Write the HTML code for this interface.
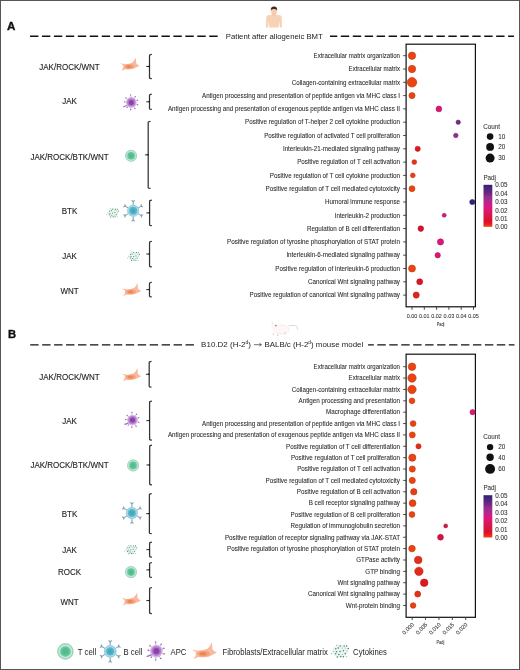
<!DOCTYPE html><html><head><meta charset="utf-8"><style>html,body{margin:0;padding:0;background:#fff}svg{display:block;will-change:transform}text{font-family:"Liberation Sans", sans-serif}</style></head><body>
<svg width="520" height="670" viewBox="0 0 520 670">

<defs>
 <filter id="soft" x="-30%" y="-30%" width="160%" height="160%"><feGaussianBlur stdDeviation="0.35"/></filter>
 <filter id="soft2" x="-30%" y="-30%" width="160%" height="160%"><feGaussianBlur stdDeviation="0.6"/></filter>
 <linearGradient id="cbar" x1="0" y1="1" x2="0" y2="0">
  <stop offset="0.000" stop-color="#ec4410"/>
  <stop offset="0.020" stop-color="#e93a14"/>
  <stop offset="0.040" stop-color="#e63018"/>
  <stop offset="0.060" stop-color="#e4261a"/>
  <stop offset="0.080" stop-color="#e31c1d"/>
  <stop offset="0.100" stop-color="#e11520"/>
  <stop offset="0.120" stop-color="#dd1327"/>
  <stop offset="0.140" stop-color="#da112d"/>
  <stop offset="0.160" stop-color="#d81132"/>
  <stop offset="0.180" stop-color="#d81237"/>
  <stop offset="0.200" stop-color="#d8133b"/>
  <stop offset="0.220" stop-color="#d81440"/>
  <stop offset="0.240" stop-color="#d71645"/>
  <stop offset="0.260" stop-color="#d6174a"/>
  <stop offset="0.280" stop-color="#d6184e"/>
  <stop offset="0.300" stop-color="#d71853"/>
  <stop offset="0.320" stop-color="#d81858"/>
  <stop offset="0.340" stop-color="#d9185d"/>
  <stop offset="0.360" stop-color="#da1862"/>
  <stop offset="0.380" stop-color="#da1866"/>
  <stop offset="0.400" stop-color="#db186b"/>
  <stop offset="0.420" stop-color="#dc1870"/>
  <stop offset="0.440" stop-color="#de1776"/>
  <stop offset="0.460" stop-color="#df167b"/>
  <stop offset="0.480" stop-color="#dc1780"/>
  <stop offset="0.500" stop-color="#d51a83"/>
  <stop offset="0.520" stop-color="#ce1d86"/>
  <stop offset="0.540" stop-color="#c71f89"/>
  <stop offset="0.560" stop-color="#c0228c"/>
  <stop offset="0.580" stop-color="#ba248c"/>
  <stop offset="0.600" stop-color="#b4268d"/>
  <stop offset="0.620" stop-color="#ae288d"/>
  <stop offset="0.640" stop-color="#a8298e"/>
  <stop offset="0.660" stop-color="#a22b8e"/>
  <stop offset="0.680" stop-color="#9c2d8e"/>
  <stop offset="0.700" stop-color="#972f8f"/>
  <stop offset="0.720" stop-color="#8f2f8d"/>
  <stop offset="0.740" stop-color="#842c87"/>
  <stop offset="0.760" stop-color="#7a2a84"/>
  <stop offset="0.780" stop-color="#742983"/>
  <stop offset="0.800" stop-color="#6e2882"/>
  <stop offset="0.820" stop-color="#672881"/>
  <stop offset="0.840" stop-color="#612780"/>
  <stop offset="0.860" stop-color="#5a277f"/>
  <stop offset="0.880" stop-color="#54267e"/>
  <stop offset="0.900" stop-color="#4d257d"/>
  <stop offset="0.920" stop-color="#47257c"/>
  <stop offset="0.940" stop-color="#40247b"/>
  <stop offset="0.960" stop-color="#3a237a"/>
  <stop offset="0.980" stop-color="#332379"/>
  <stop offset="1.000" stop-color="#2d2278"/>
 </linearGradient>
 <g id="fib">
  <path d="M-9.4,-2.7 Q-6.5,-2 -4.5,-1.8 Q0,-2 3,-3.5 Q5,-5.5 6.2,-8.4 Q6.6,-5 6.5,-3 Q8,-1 10,-0.3 Q8,0.8 6.5,1.5 Q4,3.2 0,3.4 Q-3.5,3.4 -5,3.2 Q-6.5,4.2 -8.1,4.8 Q-7,3 -6.3,1.6 Q-6.5,0 -6.3,-0.8 Q-8,-1.6 -9.4,-2.7 Z" fill="#f8b99e"/>
  <ellipse cx="-0.3" cy="0.5" rx="4.8" ry="2.3" fill="#f4a27c"/>
  <ellipse cx="-0.8" cy="0.6" rx="2.6" ry="1.3" fill="#ef8456"/>
 </g>
 <g id="apc">
  <g stroke="#b58ac8" stroke-width="0.6" stroke-linecap="round">
   <line x1="-0.37" y1="-4.18" x2="-0.66" y2="-7.57"/>
   <circle cx="-0.66" cy="-7.57" r="0.65" fill="#9870a8" stroke="none"/>
   <line x1="2.41" y1="-3.44" x2="4.02" y2="-5.73"/>
   <circle cx="4.02" cy="-5.73" r="0.65" fill="#9870a8" stroke="none"/>
   <line x1="3.95" y1="-1.44" x2="6.20" y2="-2.26"/>
   <circle cx="6.20" cy="-2.26" r="0.65" fill="#9870a8" stroke="none"/>
   <line x1="3.95" y1="1.44" x2="6.39" y2="2.33"/>
   <circle cx="6.39" cy="2.33" r="0.65" fill="#9870a8" stroke="none"/>
   <line x1="2.10" y1="3.64" x2="3.60" y2="6.24"/>
   <circle cx="3.60" cy="6.24" r="0.65" fill="#9870a8" stroke="none"/>
   <line x1="-0.37" y1="4.18" x2="-0.64" y2="7.37"/>
   <circle cx="-0.64" cy="7.37" r="0.65" fill="#9870a8" stroke="none"/>
   <line x1="-2.70" y1="3.22" x2="-4.24" y2="5.06"/>
   <circle cx="-4.24" cy="5.06" r="0.65" fill="#9870a8" stroke="none"/>
   <line x1="-4.18" y1="-0.37" x2="-6.77" y2="-0.59"/>
   <circle cx="-6.77" cy="-0.59" r="0.65" fill="#9870a8" stroke="none"/>
   <line x1="-3.22" y1="-2.70" x2="-5.36" y2="-4.50"/>
   <circle cx="-5.36" cy="-4.50" r="0.65" fill="#9870a8" stroke="none"/>
  </g>
  <path d="M-3,2.6 L-7.6,4.4" stroke="#a070b8" stroke-width="1.2" stroke-linecap="round"/>
  <circle r="5.3" fill="#d6b6e4"/>
  <circle r="4.1" fill="#b27ccc"/>
  <circle r="2.5" fill="#8c3fa8"/>
 </g>
 <g id="tcell">
  <circle r="6" fill="#bfe7d5"/>
  <circle r="5.5" fill="none" stroke="#96cbb2" stroke-width="0.7"/>
  <circle r="3.8" fill="#62c79c"/>
  <circle r="2.2" fill="#52bb8e"/>
 </g>
 <g id="bcell">
  <g stroke="#6c8a9e" stroke-width="0.85" fill="#6c8a9e" stroke-linejoin="round">
   <line x1="0.00" y1="-5.50" x2="0.00" y2="-8.30"/>
   <path d="M0.00,-8.30 L1.55,-10.50 L0.00,-9.70 L-1.55,-10.50 Z" stroke-width="0.45" fill-opacity="0.85"/>
   <line x1="4.76" y1="-2.75" x2="7.19" y2="-4.15"/>
   <path d="M7.19,-4.15 L9.87,-3.91 L8.40,-4.85 L8.32,-6.59 Z" stroke-width="0.45" fill-opacity="0.85"/>
   <line x1="4.76" y1="2.75" x2="7.19" y2="4.15"/>
   <path d="M7.19,4.15 L8.32,6.59 L8.40,4.85 L9.87,3.91 Z" stroke-width="0.45" fill-opacity="0.85"/>
   <line x1="0.00" y1="5.50" x2="0.00" y2="8.30"/>
   <path d="M0.00,8.30 L-1.55,10.50 L0.00,9.70 L1.55,10.50 Z" stroke-width="0.45" fill-opacity="0.85"/>
   <line x1="-4.76" y1="2.75" x2="-7.19" y2="4.15"/>
   <path d="M-7.19,4.15 L-9.87,3.91 L-8.40,4.85 L-8.32,6.59 Z" stroke-width="0.45" fill-opacity="0.85"/>
   <line x1="-4.76" y1="-2.75" x2="-7.19" y2="-4.15"/>
   <path d="M-7.19,-4.15 L-8.32,-6.59 L-8.40,-4.85 L-9.87,-3.91 Z" stroke-width="0.45" fill-opacity="0.85"/>
  </g>
  <circle r="6" fill="#abdcea"/>
  <circle r="5.5" fill="none" stroke="#86c3d4" stroke-width="0.6"/>
  <circle r="4.0" fill="#5ab7cc"/>
  <circle r="2.4" fill="#4aa8c0"/>
 </g>
 <g id="cyto">
  <ellipse rx="5.6" ry="4.8" fill="#eaf7f0"/>
  <circle cx="-2.57" cy="-4.30" r="0.50" fill="#9cc6b6"/>
  <circle cx="-0.08" cy="-3.76" r="0.55" fill="#4f7f6f"/>
  <circle cx="2.77" cy="-3.76" r="0.55" fill="#4f7f6f"/>
  <circle cx="4.57" cy="-3.71" r="0.55" fill="#4f7f6f"/>
  <circle cx="-3.23" cy="-1.82" r="0.55" fill="#4f7f6f"/>
  <circle cx="-1.40" cy="-2.28" r="0.55" fill="#4f7f6f"/>
  <circle cx="1.44" cy="-2.23" r="0.50" fill="#9cc6b6"/>
  <circle cx="3.56" cy="-2.22" r="0.50" fill="#9cc6b6"/>
  <circle cx="5.70" cy="-1.90" r="0.55" fill="#4f7f6f"/>
  <circle cx="-4.88" cy="0.25" r="0.50" fill="#9cc6b6"/>
  <circle cx="-2.72" cy="0.34" r="0.55" fill="#4f7f6f"/>
  <circle cx="-0.19" cy="0.19" r="0.55" fill="#4f7f6f"/>
  <circle cx="2.24" cy="-0.30" r="0.55" fill="#4f7f6f"/>
  <circle cx="4.87" cy="-0.18" r="0.50" fill="#9cc6b6"/>
  <circle cx="-6.25" cy="1.76" r="0.50" fill="#9cc6b6"/>
  <circle cx="-3.35" cy="1.82" r="0.55" fill="#4f7f6f"/>
  <circle cx="-1.01" cy="2.31" r="0.55" fill="#4f7f6f"/>
  <circle cx="1.56" cy="2.27" r="0.50" fill="#9cc6b6"/>
  <circle cx="3.54" cy="1.72" r="0.55" fill="#4f7f6f"/>
  <circle cx="-2.12" cy="4.08" r="0.55" fill="#4f7f6f"/>
  <circle cx="0.33" cy="3.79" r="0.55" fill="#4f7f6f"/>
  <circle cx="2.22" cy="3.96" r="0.55" fill="#4f7f6f"/>
  <circle cx="4.54" cy="3.91" r="0.50" fill="#9cc6b6"/>
 </g>
</defs>

<rect x="0" y="0" width="520" height="670" fill="#fff"/>
<rect x="0.5" y="0.5" width="519" height="669" fill="none" stroke="#555" stroke-width="1"/>
<text x="7.10" y="30.10" font-size="11.60" text-anchor="start" font-weight="bold" fill="#111" stroke="#111" stroke-width="0.35">A</text>
<line x1="30.00" y1="36.20" x2="219.00" y2="36.20" stroke="#111" stroke-width="1.35" stroke-dasharray="8.40 3.55" stroke-dashoffset="0.00"/>
<text x="225.80" y="38.60" font-size="7.72" text-anchor="start" font-weight="normal" fill="#222" >Patient after allogeneic BMT</text>
<line x1="330.00" y1="36.20" x2="514.00" y2="36.20" stroke="#111" stroke-width="1.35" stroke-dasharray="8.40 3.55" stroke-dashoffset="1.15"/>
<g filter="url(#soft)">
 <path d="M266.3,17 Q266.6,15.2 269.5,15 L272.2,14.6 L275.8,14.6 L278.5,15 Q281.4,15.2 281.7,17 L282,27.6 L279.8,27.6 L279.3,21 L278.6,27.6 L269.4,27.6 L268.7,21 L268.2,27.6 L266,27.6 Z" fill="#f8d2b4"/>
 <ellipse cx="274" cy="11" rx="3.0" ry="4.1" fill="#f6cdb0"/>
 <rect x="272.6" y="13.5" width="2.8" height="2.2" fill="#f3c6a6"/>
 <path d="M270.8,10.6 Q270.5,6.5 274,6.4 Q277.5,6.5 277.2,10.6 Q276.6,8.9 274,9.1 Q271.4,8.9 270.8,10.6 Z" fill="#3f2a22"/>
</g>
<rect x="406.1" y="44.20" width="69.3" height="262.60" fill="none" stroke="#111" stroke-width="1.2"/>
<text x="400.00" y="57.95" font-size="6.30" text-anchor="end" font-weight="normal" fill="#2a2a2a" stroke="#333" stroke-width="0.07" textLength="86.40" lengthAdjust="spacingAndGlyphs">Extracellular matrix organization</text>
<line x1="403.2" y1="55.70" x2="406.1" y2="55.70" stroke="#333" stroke-width="0.9"/>
<text x="400.00" y="71.25" font-size="6.30" text-anchor="end" font-weight="normal" fill="#2a2a2a" stroke="#333" stroke-width="0.07" textLength="51.40" lengthAdjust="spacingAndGlyphs">Extracellular matrix</text>
<line x1="403.2" y1="69.00" x2="406.1" y2="69.00" stroke="#333" stroke-width="0.9"/>
<text x="400.00" y="84.55" font-size="6.30" text-anchor="end" font-weight="normal" fill="#2a2a2a" stroke="#333" stroke-width="0.07" textLength="108.20" lengthAdjust="spacingAndGlyphs">Collagen-containing extracellular matrix</text>
<line x1="403.2" y1="82.30" x2="406.1" y2="82.30" stroke="#333" stroke-width="0.9"/>
<text x="400.00" y="97.85" font-size="6.30" text-anchor="end" font-weight="normal" fill="#2a2a2a" stroke="#333" stroke-width="0.07" textLength="198.03" lengthAdjust="spacingAndGlyphs">Antigen processing and presentation of peptide antigen via MHC class I</text>
<line x1="403.2" y1="95.60" x2="406.1" y2="95.60" stroke="#333" stroke-width="0.9"/>
<text x="400.00" y="111.15" font-size="6.30" text-anchor="end" font-weight="normal" fill="#2a2a2a" stroke="#333" stroke-width="0.07" textLength="232.09" lengthAdjust="spacingAndGlyphs">Antigen processing and presentation of exogenous peptide antigen via MHC class II</text>
<line x1="403.2" y1="108.90" x2="406.1" y2="108.90" stroke="#333" stroke-width="0.9"/>
<text x="400.00" y="124.45" font-size="6.30" text-anchor="end" font-weight="normal" fill="#2a2a2a" stroke="#333" stroke-width="0.07" textLength="154.94" lengthAdjust="spacingAndGlyphs">Positive regulation of T-helper 2 cell cytokine production</text>
<line x1="403.2" y1="122.20" x2="406.1" y2="122.20" stroke="#333" stroke-width="0.9"/>
<text x="400.00" y="137.75" font-size="6.30" text-anchor="end" font-weight="normal" fill="#2a2a2a" stroke="#333" stroke-width="0.07" textLength="135.83" lengthAdjust="spacingAndGlyphs">Positive regulation of activated T cell proliferation</text>
<line x1="403.2" y1="135.50" x2="406.1" y2="135.50" stroke="#333" stroke-width="0.9"/>
<text x="400.00" y="151.05" font-size="6.30" text-anchor="end" font-weight="normal" fill="#2a2a2a" stroke="#333" stroke-width="0.07" textLength="117.08" lengthAdjust="spacingAndGlyphs">Interleukin-21-mediated signaling pathway</text>
<line x1="403.2" y1="148.80" x2="406.1" y2="148.80" stroke="#333" stroke-width="0.9"/>
<text x="400.00" y="164.35" font-size="6.30" text-anchor="end" font-weight="normal" fill="#2a2a2a" stroke="#333" stroke-width="0.07" textLength="102.83" lengthAdjust="spacingAndGlyphs">Positive regulation of T cell activation</text>
<line x1="403.2" y1="162.10" x2="406.1" y2="162.10" stroke="#333" stroke-width="0.9"/>
<text x="400.00" y="177.65" font-size="6.30" text-anchor="end" font-weight="normal" fill="#2a2a2a" stroke="#333" stroke-width="0.07" textLength="130.28" lengthAdjust="spacingAndGlyphs">Positive regulation of T cell cytokine production</text>
<line x1="403.2" y1="175.40" x2="406.1" y2="175.40" stroke="#333" stroke-width="0.9"/>
<text x="400.00" y="190.95" font-size="6.30" text-anchor="end" font-weight="normal" fill="#2a2a2a" stroke="#333" stroke-width="0.07" textLength="134.44" lengthAdjust="spacingAndGlyphs">Positive regulation of T cell mediated cytotoxicity</text>
<line x1="403.2" y1="188.70" x2="406.1" y2="188.70" stroke="#333" stroke-width="0.9"/>
<text x="400.00" y="204.25" font-size="6.30" text-anchor="end" font-weight="normal" fill="#2a2a2a" stroke="#333" stroke-width="0.07" textLength="75.03" lengthAdjust="spacingAndGlyphs">Humoral immune response</text>
<line x1="403.2" y1="202.00" x2="406.1" y2="202.00" stroke="#333" stroke-width="0.9"/>
<text x="400.00" y="217.55" font-size="6.30" text-anchor="end" font-weight="normal" fill="#2a2a2a" stroke="#333" stroke-width="0.07" textLength="65.32" lengthAdjust="spacingAndGlyphs">Interleukin-2 production</text>
<line x1="403.2" y1="215.30" x2="406.1" y2="215.30" stroke="#333" stroke-width="0.9"/>
<text x="400.00" y="230.85" font-size="6.30" text-anchor="end" font-weight="normal" fill="#2a2a2a" stroke="#333" stroke-width="0.07" textLength="93.11" lengthAdjust="spacingAndGlyphs">Regulation of B cell differentiation</text>
<line x1="403.2" y1="228.60" x2="406.1" y2="228.60" stroke="#333" stroke-width="0.9"/>
<text x="400.00" y="244.15" font-size="6.30" text-anchor="end" font-weight="normal" fill="#2a2a2a" stroke="#333" stroke-width="0.07" textLength="173.01" lengthAdjust="spacingAndGlyphs">Positive regulation of tyrosine phosphorylation of STAT protein</text>
<line x1="403.2" y1="241.90" x2="406.1" y2="241.90" stroke="#333" stroke-width="0.9"/>
<text x="400.00" y="257.45" font-size="6.30" text-anchor="end" font-weight="normal" fill="#2a2a2a" stroke="#333" stroke-width="0.07" textLength="113.61" lengthAdjust="spacingAndGlyphs">Interleukin-6-mediated signaling pathway</text>
<line x1="403.2" y1="255.20" x2="406.1" y2="255.20" stroke="#333" stroke-width="0.9"/>
<text x="400.00" y="270.75" font-size="6.30" text-anchor="end" font-weight="normal" fill="#2a2a2a" stroke="#333" stroke-width="0.07" textLength="124.73" lengthAdjust="spacingAndGlyphs">Positive regulation of interleukin-6 production</text>
<line x1="403.2" y1="268.50" x2="406.1" y2="268.50" stroke="#333" stroke-width="0.9"/>
<text x="400.00" y="284.05" font-size="6.30" text-anchor="end" font-weight="normal" fill="#2a2a2a" stroke="#333" stroke-width="0.07" textLength="92.07" lengthAdjust="spacingAndGlyphs">Canonical Wnt signaling pathway</text>
<line x1="403.2" y1="281.80" x2="406.1" y2="281.80" stroke="#333" stroke-width="0.9"/>
<text x="400.00" y="297.35" font-size="6.30" text-anchor="end" font-weight="normal" fill="#2a2a2a" stroke="#333" stroke-width="0.07" textLength="150.43" lengthAdjust="spacingAndGlyphs">Positive regulation of canonical Wnt signaling pathway</text>
<line x1="403.2" y1="295.10" x2="406.1" y2="295.10" stroke="#333" stroke-width="0.9"/>
<circle cx="412.00" cy="55.70" r="3.70" fill="#ec4410" stroke="#b8350c" stroke-width="0.55"/>
<circle cx="412.00" cy="69.00" r="3.70" fill="#ec4410" stroke="#b8350c" stroke-width="0.55"/>
<circle cx="412.00" cy="82.30" r="4.80" fill="#ec4410" stroke="#b8350c" stroke-width="0.55"/>
<circle cx="412.00" cy="95.60" r="3.10" fill="#ec4410" stroke="#b8350c" stroke-width="0.55"/>
<circle cx="438.90" cy="108.90" r="2.90" fill="#dd1775" stroke="#ac115b" stroke-width="0.55"/>
<circle cx="458.20" cy="122.20" r="2.20" fill="#7d2a84" stroke="#612066" stroke-width="0.55"/>
<circle cx="455.80" cy="135.50" r="2.30" fill="#93308f" stroke="#72256f" stroke-width="0.55"/>
<circle cx="417.70" cy="148.80" r="2.60" fill="#e2161e" stroke="#b01117" stroke-width="0.55"/>
<circle cx="414.30" cy="162.10" r="2.40" fill="#e63117" stroke="#b32611" stroke-width="0.55"/>
<circle cx="412.80" cy="175.40" r="2.40" fill="#ea3d13" stroke="#b62f0e" stroke-width="0.55"/>
<circle cx="412.00" cy="188.70" r="3.00" fill="#ec4410" stroke="#b8350c" stroke-width="0.55"/>
<circle cx="472.30" cy="202.00" r="2.60" fill="#332379" stroke="#271b5e" stroke-width="0.55"/>
<circle cx="444.20" cy="215.30" r="2.00" fill="#cd1d86" stroke="#9f1668" stroke-width="0.55"/>
<circle cx="420.80" cy="228.60" r="2.80" fill="#d9112e" stroke="#a90d23" stroke-width="0.55"/>
<circle cx="440.50" cy="241.90" r="3.10" fill="#df167c" stroke="#ad1160" stroke-width="0.55"/>
<circle cx="437.70" cy="255.20" r="2.70" fill="#dc186f" stroke="#ab1256" stroke-width="0.55"/>
<circle cx="412.00" cy="268.50" r="3.50" fill="#ec4410" stroke="#b8350c" stroke-width="0.55"/>
<circle cx="419.70" cy="281.80" r="3.00" fill="#dc1328" stroke="#ab0e1f" stroke-width="0.55"/>
<circle cx="416.20" cy="295.10" r="3.10" fill="#e4221b" stroke="#b11a15" stroke-width="0.55"/>
<line x1="412.00" y1="306.8" x2="412.00" y2="309.8" stroke="#333" stroke-width="0.9"/>
<text x="412.00" y="317.60" font-size="5.80" text-anchor="middle" font-weight="normal" fill="#333" stroke="#333" stroke-width="0.07" textLength="10.60" lengthAdjust="spacingAndGlyphs">0.00</text>
<line x1="424.30" y1="306.8" x2="424.30" y2="309.8" stroke="#333" stroke-width="0.9"/>
<text x="424.30" y="317.60" font-size="5.80" text-anchor="middle" font-weight="normal" fill="#333" stroke="#333" stroke-width="0.07" textLength="10.60" lengthAdjust="spacingAndGlyphs">0.01</text>
<line x1="436.60" y1="306.8" x2="436.60" y2="309.8" stroke="#333" stroke-width="0.9"/>
<text x="436.60" y="317.60" font-size="5.80" text-anchor="middle" font-weight="normal" fill="#333" stroke="#333" stroke-width="0.07" textLength="10.60" lengthAdjust="spacingAndGlyphs">0.02</text>
<line x1="448.90" y1="306.8" x2="448.90" y2="309.8" stroke="#333" stroke-width="0.9"/>
<text x="448.90" y="317.60" font-size="5.80" text-anchor="middle" font-weight="normal" fill="#333" stroke="#333" stroke-width="0.07" textLength="10.60" lengthAdjust="spacingAndGlyphs">0.03</text>
<line x1="461.20" y1="306.8" x2="461.20" y2="309.8" stroke="#333" stroke-width="0.9"/>
<text x="461.20" y="317.60" font-size="5.80" text-anchor="middle" font-weight="normal" fill="#333" stroke="#333" stroke-width="0.07" textLength="10.60" lengthAdjust="spacingAndGlyphs">0.04</text>
<line x1="473.50" y1="306.8" x2="473.50" y2="309.8" stroke="#333" stroke-width="0.9"/>
<text x="473.50" y="317.60" font-size="5.80" text-anchor="middle" font-weight="normal" fill="#333" stroke="#333" stroke-width="0.07" textLength="10.60" lengthAdjust="spacingAndGlyphs">0.05</text>
<text x="440.60" y="325.60" font-size="5.60" text-anchor="middle" font-weight="normal" fill="#333" stroke="#333" stroke-width="0.07" textLength="7.80" lengthAdjust="spacingAndGlyphs">Padj</text>
<text x="483.20" y="128.70" font-size="6.30" text-anchor="start" font-weight="normal" fill="#333" stroke="#333" stroke-width="0.07">Count</text>
<circle cx="490.1" cy="136.60" r="3.30" fill="#111"/>
<text x="498.30" y="138.90" font-size="6.30" text-anchor="start" font-weight="normal" fill="#333" stroke="#333" stroke-width="0.07">10</text>
<circle cx="490.1" cy="146.90" r="3.90" fill="#111"/>
<text x="498.30" y="149.20" font-size="6.30" text-anchor="start" font-weight="normal" fill="#333" stroke="#333" stroke-width="0.07">20</text>
<circle cx="490.1" cy="158.10" r="4.50" fill="#111"/>
<text x="498.30" y="160.40" font-size="6.30" text-anchor="start" font-weight="normal" fill="#333" stroke="#333" stroke-width="0.07">30</text>
<text x="483.40" y="180.10" font-size="6.30" text-anchor="start" font-weight="normal" fill="#333" stroke="#333" stroke-width="0.07">Padj</text>
<rect x="483.5" y="184.80" width="8.8" height="42.00" fill="url(#cbar)"/>
<text x="495.20" y="187.40" font-size="6.30" text-anchor="start" font-weight="normal" fill="#333" stroke="#333" stroke-width="0.07">0.05</text>
<text x="495.20" y="195.80" font-size="6.30" text-anchor="start" font-weight="normal" fill="#333" stroke="#333" stroke-width="0.07">0.04</text>
<text x="495.20" y="204.20" font-size="6.30" text-anchor="start" font-weight="normal" fill="#333" stroke="#333" stroke-width="0.07">0.03</text>
<text x="495.20" y="212.60" font-size="6.30" text-anchor="start" font-weight="normal" fill="#333" stroke="#333" stroke-width="0.07">0.02</text>
<text x="495.20" y="221.00" font-size="6.30" text-anchor="start" font-weight="normal" fill="#333" stroke="#333" stroke-width="0.07">0.01</text>
<text x="495.20" y="229.40" font-size="6.30" text-anchor="start" font-weight="normal" fill="#333" stroke="#333" stroke-width="0.07">0.00</text>
<text x="69.50" y="70.40" font-size="8.60" text-anchor="middle" font-weight="normal" fill="#1e1e1e" stroke="#1e1e1e" stroke-width="0.12" textLength="60.45" lengthAdjust="spacingAndGlyphs">JAK/ROCK/WNT</text>
<use href="#fib" transform="translate(129.60 66.00) scale(1.000)" filter="url(#soft)"/>
<path d="M151.80,54.40 Q149.50,54.40 149.50,55.40 V78.00 Q149.50,78.60 151.80,78.60" fill="none" stroke="#333" stroke-width="1.25"/>
<path d="M149.80,65.60 L148.00,66.05 L149.80,67.40 Z" fill="#1a1a1a"/>
<line x1="149.50" y1="66.50" x2="146.30" y2="66.50" stroke="#1a1a1a" stroke-width="0.95"/>
<text x="69.50" y="103.80" font-size="8.60" text-anchor="middle" font-weight="normal" fill="#1e1e1e" stroke="#1e1e1e" stroke-width="0.12" textLength="14.67" lengthAdjust="spacingAndGlyphs">JAK</text>
<use href="#apc" transform="translate(131.30 102.40) scale(1.000)" filter="url(#soft)"/>
<path d="M151.80,94.20 Q149.50,94.20 149.50,95.20 V108.80 Q149.50,109.40 151.80,109.40" fill="none" stroke="#333" stroke-width="1.25"/>
<path d="M149.80,100.90 L148.00,101.35 L149.80,102.70 Z" fill="#1a1a1a"/>
<line x1="149.50" y1="101.80" x2="146.30" y2="101.80" stroke="#1a1a1a" stroke-width="0.95"/>
<text x="69.50" y="159.80" font-size="8.60" text-anchor="middle" font-weight="normal" fill="#1e1e1e" stroke="#1e1e1e" stroke-width="0.12" textLength="78.23" lengthAdjust="spacingAndGlyphs">JAK/ROCK/BTK/WNT</text>
<use href="#tcell" transform="translate(131.10 155.80) scale(1.000)" filter="url(#soft)"/>
<path d="M150.50,121.30 Q148.20,121.30 148.20,122.30 V187.80 Q148.20,188.40 150.50,188.40" fill="none" stroke="#333" stroke-width="1.25"/>
<path d="M148.50,153.95 L146.70,154.40 L148.50,155.75 Z" fill="#1a1a1a"/>
<line x1="148.20" y1="154.85" x2="145.00" y2="154.85" stroke="#1a1a1a" stroke-width="0.95"/>
<text x="69.50" y="213.80" font-size="8.60" text-anchor="middle" font-weight="normal" fill="#1e1e1e" stroke="#1e1e1e" stroke-width="0.12" textLength="15.56" lengthAdjust="spacingAndGlyphs">BTK</text>
<use href="#cyto" transform="translate(112.80 212.90) scale(1.000)" filter="url(#soft)"/>
<use href="#bcell" transform="translate(133.20 210.80) scale(1.000)" filter="url(#soft)"/>
<path d="M151.90,200.20 Q149.60,200.20 149.60,201.20 V225.10 Q149.60,225.70 151.90,225.70" fill="none" stroke="#333" stroke-width="1.25"/>
<path d="M149.90,212.05 L148.10,212.50 L149.90,213.85 Z" fill="#1a1a1a"/>
<line x1="149.60" y1="212.95" x2="146.40" y2="212.95" stroke="#1a1a1a" stroke-width="0.95"/>
<text x="69.50" y="258.80" font-size="8.60" text-anchor="middle" font-weight="normal" fill="#1e1e1e" stroke="#1e1e1e" stroke-width="0.12" textLength="14.67" lengthAdjust="spacingAndGlyphs">JAK</text>
<use href="#cyto" transform="translate(133.70 256.30) scale(1.000)" filter="url(#soft)"/>
<path d="M151.85,241.30 Q149.55,241.30 149.55,242.30 V266.20 Q149.55,266.80 151.85,266.80" fill="none" stroke="#333" stroke-width="1.25"/>
<path d="M149.85,253.15 L148.05,253.60 L149.85,254.95 Z" fill="#1a1a1a"/>
<line x1="149.55" y1="254.05" x2="146.35" y2="254.05" stroke="#1a1a1a" stroke-width="0.95"/>
<text x="69.50" y="293.80" font-size="8.60" text-anchor="middle" font-weight="normal" fill="#1e1e1e" stroke="#1e1e1e" stroke-width="0.12" textLength="18.21" lengthAdjust="spacingAndGlyphs">WNT</text>
<use href="#fib" transform="translate(131.30 291.30) scale(1.000)" filter="url(#soft)"/>
<path d="M151.80,282.30 Q149.50,282.30 149.50,283.30 V296.30 Q149.50,296.90 151.80,296.90" fill="none" stroke="#333" stroke-width="1.25"/>
<path d="M149.80,288.70 L148.00,289.15 L149.80,290.50 Z" fill="#1a1a1a"/>
<line x1="149.50" y1="289.60" x2="146.30" y2="289.60" stroke="#1a1a1a" stroke-width="0.95"/>
<text x="7.90" y="338.40" font-size="11.20" text-anchor="start" font-weight="bold" fill="#111" stroke="#111" stroke-width="0.35">B</text>
<line x1="30.20" y1="344.80" x2="196.00" y2="344.80" stroke="#111" stroke-width="1.35" stroke-dasharray="8.40 3.55" stroke-dashoffset="0.00"/>
<text x="201.1" y="347.3" font-size="7.7" fill="#222" textLength="49.9" lengthAdjust="spacingAndGlyphs">B10.D2 (H-2<tspan font-size="4.8" dy="-2.9">d</tspan><tspan dy="2.9">)</tspan></text>
<path d="M253.9,344.7 H261.2 M259.4,343.2 L261.5,344.7 L259.4,346.2" fill="none" stroke="#333" stroke-width="0.7"/>
<text x="264.5" y="347.3" font-size="7.7" fill="#222" textLength="98.7" lengthAdjust="spacingAndGlyphs">BALB/c (H-2<tspan font-size="4.8" dy="-2.9">d</tspan><tspan dy="2.9">) mouse model</tspan></text>
<line x1="368.10" y1="344.80" x2="514.50" y2="344.80" stroke="#111" stroke-width="1.35" stroke-dasharray="8.40 3.55" stroke-dashoffset="2.70"/>
<g filter="url(#soft)">
 <ellipse cx="281.5" cy="329.5" rx="7.5" ry="4.6" fill="#fdf8f6" stroke="#f0e2de" stroke-width="0.6"/>
 <ellipse cx="275" cy="327.5" rx="3.8" ry="3.2" fill="#fdf8f6"/>
 <path d="M272.2,324.8 Q271.5,322.6 273.4,323" fill="none" stroke="#e6d2ce" stroke-width="0.7"/>
 <path d="M288.5,325.6 H295.6 Q298,326 297.6,329.6" fill="none" stroke="#d9c4c0" stroke-width="0.7"/>
 <circle cx="275.8" cy="325.6" r="0.9" fill="#9a8a88"/>
 <circle cx="273.5" cy="334" r="0.8" fill="#dcc4c0"/>
 <circle cx="277.6" cy="335.2" r="0.8" fill="#dcc4c0"/>
 <circle cx="285.2" cy="333.2" r="0.8" fill="#dcc4c0"/>
</g>
<rect x="406.1" y="354.20" width="69.3" height="263.10" fill="none" stroke="#111" stroke-width="1.2"/>
<text x="400.00" y="368.95" font-size="6.30" text-anchor="end" font-weight="normal" fill="#2a2a2a" stroke="#333" stroke-width="0.07" textLength="86.40" lengthAdjust="spacingAndGlyphs">Extracellular matrix organization</text>
<line x1="403.2" y1="366.70" x2="406.1" y2="366.70" stroke="#333" stroke-width="0.9"/>
<text x="400.00" y="380.32" font-size="6.30" text-anchor="end" font-weight="normal" fill="#2a2a2a" stroke="#333" stroke-width="0.07" textLength="51.40" lengthAdjust="spacingAndGlyphs">Extracellular matrix</text>
<line x1="403.2" y1="378.07" x2="406.1" y2="378.07" stroke="#333" stroke-width="0.9"/>
<text x="400.00" y="391.69" font-size="6.30" text-anchor="end" font-weight="normal" fill="#2a2a2a" stroke="#333" stroke-width="0.07" textLength="108.20" lengthAdjust="spacingAndGlyphs">Collagen-containing extracellular matrix</text>
<line x1="403.2" y1="389.44" x2="406.1" y2="389.44" stroke="#333" stroke-width="0.9"/>
<text x="400.00" y="403.06" font-size="6.30" text-anchor="end" font-weight="normal" fill="#2a2a2a" stroke="#333" stroke-width="0.07" textLength="101.46" lengthAdjust="spacingAndGlyphs">Antigen processing and presentation</text>
<line x1="403.2" y1="400.81" x2="406.1" y2="400.81" stroke="#333" stroke-width="0.9"/>
<text x="400.00" y="414.43" font-size="6.30" text-anchor="end" font-weight="normal" fill="#2a2a2a" stroke="#333" stroke-width="0.07" textLength="74.01" lengthAdjust="spacingAndGlyphs">Macrophage differentiation</text>
<line x1="403.2" y1="412.18" x2="406.1" y2="412.18" stroke="#333" stroke-width="0.9"/>
<text x="400.00" y="425.80" font-size="6.30" text-anchor="end" font-weight="normal" fill="#2a2a2a" stroke="#333" stroke-width="0.07" textLength="198.03" lengthAdjust="spacingAndGlyphs">Antigen processing and presentation of peptide antigen via MHC class I</text>
<line x1="403.2" y1="423.55" x2="406.1" y2="423.55" stroke="#333" stroke-width="0.9"/>
<text x="400.00" y="437.17" font-size="6.30" text-anchor="end" font-weight="normal" fill="#2a2a2a" stroke="#333" stroke-width="0.07" textLength="232.09" lengthAdjust="spacingAndGlyphs">Antigen processing and presentation of exogenous peptide antigen via MHC class II</text>
<line x1="403.2" y1="434.92" x2="406.1" y2="434.92" stroke="#333" stroke-width="0.9"/>
<text x="400.00" y="448.54" font-size="6.30" text-anchor="end" font-weight="normal" fill="#2a2a2a" stroke="#333" stroke-width="0.07" textLength="113.95" lengthAdjust="spacingAndGlyphs">Positive regulation of T cell differentiation</text>
<line x1="403.2" y1="446.29" x2="406.1" y2="446.29" stroke="#333" stroke-width="0.9"/>
<text x="400.00" y="459.91" font-size="6.30" text-anchor="end" font-weight="normal" fill="#2a2a2a" stroke="#333" stroke-width="0.07" textLength="109.08" lengthAdjust="spacingAndGlyphs">Positive regulation of T cell proliferation</text>
<line x1="403.2" y1="457.66" x2="406.1" y2="457.66" stroke="#333" stroke-width="0.9"/>
<text x="400.00" y="471.28" font-size="6.30" text-anchor="end" font-weight="normal" fill="#2a2a2a" stroke="#333" stroke-width="0.07" textLength="102.83" lengthAdjust="spacingAndGlyphs">Positive regulation of T cell activation</text>
<line x1="403.2" y1="469.03" x2="406.1" y2="469.03" stroke="#333" stroke-width="0.9"/>
<text x="400.00" y="482.65" font-size="6.30" text-anchor="end" font-weight="normal" fill="#2a2a2a" stroke="#333" stroke-width="0.07" textLength="134.44" lengthAdjust="spacingAndGlyphs">Positive regulation of T cell mediated cytotoxicity</text>
<line x1="403.2" y1="480.40" x2="406.1" y2="480.40" stroke="#333" stroke-width="0.9"/>
<text x="400.00" y="494.02" font-size="6.30" text-anchor="end" font-weight="normal" fill="#2a2a2a" stroke="#333" stroke-width="0.07" textLength="103.18" lengthAdjust="spacingAndGlyphs">Positive regulation of B cell activation</text>
<line x1="403.2" y1="491.77" x2="406.1" y2="491.77" stroke="#333" stroke-width="0.9"/>
<text x="400.00" y="505.39" font-size="6.30" text-anchor="end" font-weight="normal" fill="#2a2a2a" stroke="#333" stroke-width="0.07" textLength="91.37" lengthAdjust="spacingAndGlyphs">B cell receptor signaling pathway</text>
<line x1="403.2" y1="503.14" x2="406.1" y2="503.14" stroke="#333" stroke-width="0.9"/>
<text x="400.00" y="516.76" font-size="6.30" text-anchor="end" font-weight="normal" fill="#2a2a2a" stroke="#333" stroke-width="0.07" textLength="109.43" lengthAdjust="spacingAndGlyphs">Positive regulation of B cell proliferation</text>
<line x1="403.2" y1="514.51" x2="406.1" y2="514.51" stroke="#333" stroke-width="0.9"/>
<text x="400.00" y="528.13" font-size="6.30" text-anchor="end" font-weight="normal" fill="#2a2a2a" stroke="#333" stroke-width="0.07" textLength="109.44" lengthAdjust="spacingAndGlyphs">Regulation of immunoglobulin secretion</text>
<line x1="403.2" y1="525.88" x2="406.1" y2="525.88" stroke="#333" stroke-width="0.9"/>
<text x="400.00" y="539.50" font-size="6.30" text-anchor="end" font-weight="normal" fill="#2a2a2a" stroke="#333" stroke-width="0.07" textLength="175.09" lengthAdjust="spacingAndGlyphs">Positive regulation of receptor signaling pathway via JAK-STAT</text>
<line x1="403.2" y1="537.25" x2="406.1" y2="537.25" stroke="#333" stroke-width="0.9"/>
<text x="400.00" y="550.87" font-size="6.30" text-anchor="end" font-weight="normal" fill="#2a2a2a" stroke="#333" stroke-width="0.07" textLength="173.01" lengthAdjust="spacingAndGlyphs">Positive regulation of tyrosine phosphorylation of STAT protein</text>
<line x1="403.2" y1="548.62" x2="406.1" y2="548.62" stroke="#333" stroke-width="0.9"/>
<text x="400.00" y="562.24" font-size="6.30" text-anchor="end" font-weight="normal" fill="#2a2a2a" stroke="#333" stroke-width="0.07" textLength="43.76" lengthAdjust="spacingAndGlyphs">GTPase activity</text>
<line x1="403.2" y1="559.99" x2="406.1" y2="559.99" stroke="#333" stroke-width="0.9"/>
<text x="400.00" y="573.61" font-size="6.30" text-anchor="end" font-weight="normal" fill="#2a2a2a" stroke="#333" stroke-width="0.07" textLength="34.74" lengthAdjust="spacingAndGlyphs">GTP binding</text>
<line x1="403.2" y1="571.36" x2="406.1" y2="571.36" stroke="#333" stroke-width="0.9"/>
<text x="400.00" y="584.98" font-size="6.30" text-anchor="end" font-weight="normal" fill="#2a2a2a" stroke="#333" stroke-width="0.07" textLength="62.53" lengthAdjust="spacingAndGlyphs">Wnt signaling pathway</text>
<line x1="403.2" y1="582.73" x2="406.1" y2="582.73" stroke="#333" stroke-width="0.9"/>
<text x="400.00" y="596.35" font-size="6.30" text-anchor="end" font-weight="normal" fill="#2a2a2a" stroke="#333" stroke-width="0.07" textLength="92.07" lengthAdjust="spacingAndGlyphs">Canonical Wnt signaling pathway</text>
<line x1="403.2" y1="594.10" x2="406.1" y2="594.10" stroke="#333" stroke-width="0.9"/>
<text x="400.00" y="607.72" font-size="6.30" text-anchor="end" font-weight="normal" fill="#2a2a2a" stroke="#333" stroke-width="0.07" textLength="54.20" lengthAdjust="spacingAndGlyphs">Wnt-protein binding</text>
<line x1="403.2" y1="605.47" x2="406.1" y2="605.47" stroke="#333" stroke-width="0.9"/>
<circle cx="412.00" cy="366.70" r="3.80" fill="#ec4410" stroke="#b8350c" stroke-width="0.55"/>
<circle cx="412.00" cy="378.07" r="4.20" fill="#ec4410" stroke="#b8350c" stroke-width="0.55"/>
<circle cx="412.00" cy="389.44" r="4.20" fill="#ec4410" stroke="#b8350c" stroke-width="0.55"/>
<circle cx="412.00" cy="400.81" r="2.90" fill="#ec4410" stroke="#b8350c" stroke-width="0.55"/>
<circle cx="472.60" cy="412.18" r="2.60" fill="#df1779" stroke="#ad115e" stroke-width="0.55"/>
<circle cx="413.10" cy="423.55" r="2.90" fill="#eb4012" stroke="#b7310e" stroke-width="0.55"/>
<circle cx="412.30" cy="434.92" r="3.00" fill="#ec4310" stroke="#b8340c" stroke-width="0.55"/>
<circle cx="418.50" cy="446.29" r="2.60" fill="#e52c19" stroke="#b22213" stroke-width="0.55"/>
<circle cx="412.30" cy="457.66" r="3.60" fill="#ec4310" stroke="#b8340c" stroke-width="0.55"/>
<circle cx="412.30" cy="469.03" r="3.10" fill="#ec4310" stroke="#b8340c" stroke-width="0.55"/>
<circle cx="412.30" cy="480.40" r="3.10" fill="#ec4310" stroke="#b8340c" stroke-width="0.55"/>
<circle cx="413.80" cy="491.77" r="3.20" fill="#ea3d13" stroke="#b62f0e" stroke-width="0.55"/>
<circle cx="412.60" cy="503.14" r="3.40" fill="#eb4211" stroke="#b7330d" stroke-width="0.55"/>
<circle cx="412.00" cy="514.51" r="2.90" fill="#ec4410" stroke="#b8350c" stroke-width="0.55"/>
<circle cx="445.70" cy="525.88" r="2.00" fill="#d71748" stroke="#a71138" stroke-width="0.55"/>
<circle cx="440.50" cy="537.25" r="2.90" fill="#d8143e" stroke="#a80f30" stroke-width="0.55"/>
<circle cx="412.00" cy="548.62" r="3.30" fill="#ec4410" stroke="#b8350c" stroke-width="0.55"/>
<circle cx="418.20" cy="559.99" r="3.80" fill="#e62d19" stroke="#b32313" stroke-width="0.55"/>
<circle cx="418.90" cy="571.36" r="4.20" fill="#e52a19" stroke="#b22013" stroke-width="0.55"/>
<circle cx="424.20" cy="582.73" r="3.80" fill="#e2161e" stroke="#b01117" stroke-width="0.55"/>
<circle cx="417.70" cy="594.10" r="3.00" fill="#e62f18" stroke="#b32412" stroke-width="0.55"/>
<circle cx="413.10" cy="605.47" r="2.80" fill="#eb4012" stroke="#b7310e" stroke-width="0.55"/>
<line x1="412.20" y1="617.1" x2="412.20" y2="620" stroke="#333" stroke-width="0.9"/>
<text transform="translate(414.40 625.0) rotate(-45)" font-size="5.6" text-anchor="end" fill="#333" stroke="#333" stroke-width="0.07">0.000</text>
<line x1="425.58" y1="617.1" x2="425.58" y2="620" stroke="#333" stroke-width="0.9"/>
<text transform="translate(427.78 625.0) rotate(-45)" font-size="5.6" text-anchor="end" fill="#333" stroke="#333" stroke-width="0.07">0.005</text>
<line x1="438.96" y1="617.1" x2="438.96" y2="620" stroke="#333" stroke-width="0.9"/>
<text transform="translate(441.16 625.0) rotate(-45)" font-size="5.6" text-anchor="end" fill="#333" stroke="#333" stroke-width="0.07">0.010</text>
<line x1="452.34" y1="617.1" x2="452.34" y2="620" stroke="#333" stroke-width="0.9"/>
<text transform="translate(454.54 625.0) rotate(-45)" font-size="5.6" text-anchor="end" fill="#333" stroke="#333" stroke-width="0.07">0.015</text>
<line x1="465.72" y1="617.1" x2="465.72" y2="620" stroke="#333" stroke-width="0.9"/>
<text transform="translate(467.92 625.0) rotate(-45)" font-size="5.6" text-anchor="end" fill="#333" stroke="#333" stroke-width="0.07">0.020</text>
<text x="440.40" y="643.90" font-size="5.60" text-anchor="middle" font-weight="normal" fill="#333" stroke="#333" stroke-width="0.07" textLength="7.80" lengthAdjust="spacingAndGlyphs">Padj</text>
<text x="483.20" y="439.00" font-size="6.30" text-anchor="start" font-weight="normal" fill="#333" stroke="#333" stroke-width="0.07">Count</text>
<circle cx="490.1" cy="447.10" r="3.20" fill="#111"/>
<text x="498.30" y="449.40" font-size="6.30" text-anchor="start" font-weight="normal" fill="#333" stroke="#333" stroke-width="0.07">20</text>
<circle cx="490.1" cy="457.30" r="3.70" fill="#111"/>
<text x="498.30" y="459.60" font-size="6.30" text-anchor="start" font-weight="normal" fill="#333" stroke="#333" stroke-width="0.07">40</text>
<circle cx="490.1" cy="468.90" r="4.95" fill="#111"/>
<text x="498.30" y="471.20" font-size="6.30" text-anchor="start" font-weight="normal" fill="#333" stroke="#333" stroke-width="0.07">60</text>
<text x="483.40" y="490.30" font-size="6.30" text-anchor="start" font-weight="normal" fill="#333" stroke="#333" stroke-width="0.07">Padj</text>
<rect x="483.5" y="495.20" width="8.8" height="42.30" fill="url(#cbar)"/>
<text x="495.20" y="497.80" font-size="6.30" text-anchor="start" font-weight="normal" fill="#333" stroke="#333" stroke-width="0.07">0.05</text>
<text x="495.20" y="506.26" font-size="6.30" text-anchor="start" font-weight="normal" fill="#333" stroke="#333" stroke-width="0.07">0.04</text>
<text x="495.20" y="514.72" font-size="6.30" text-anchor="start" font-weight="normal" fill="#333" stroke="#333" stroke-width="0.07">0.03</text>
<text x="495.20" y="523.18" font-size="6.30" text-anchor="start" font-weight="normal" fill="#333" stroke="#333" stroke-width="0.07">0.02</text>
<text x="495.20" y="531.64" font-size="6.30" text-anchor="start" font-weight="normal" fill="#333" stroke="#333" stroke-width="0.07">0.01</text>
<text x="495.20" y="540.10" font-size="6.30" text-anchor="start" font-weight="normal" fill="#333" stroke="#333" stroke-width="0.07">0.00</text>
<text x="69.50" y="380.30" font-size="8.60" text-anchor="middle" font-weight="normal" fill="#1e1e1e" stroke="#1e1e1e" stroke-width="0.12" textLength="60.45" lengthAdjust="spacingAndGlyphs">JAK/ROCK/WNT</text>
<use href="#fib" transform="translate(131.20 376.50) scale(1.000)" filter="url(#soft)"/>
<path d="M151.50,361.40 Q149.20,361.40 149.20,362.40 V386.60 Q149.20,387.20 151.50,387.20" fill="none" stroke="#333" stroke-width="1.25"/>
<path d="M149.50,373.40 L147.70,373.85 L149.50,375.20 Z" fill="#1a1a1a"/>
<line x1="149.20" y1="374.30" x2="146.00" y2="374.30" stroke="#1a1a1a" stroke-width="0.95"/>
<text x="69.50" y="423.70" font-size="8.60" text-anchor="middle" font-weight="normal" fill="#1e1e1e" stroke="#1e1e1e" stroke-width="0.12" textLength="14.67" lengthAdjust="spacingAndGlyphs">JAK</text>
<use href="#apc" transform="translate(132.50 420.00) scale(1.000)" filter="url(#soft)"/>
<path d="M151.90,401.20 Q149.60,401.20 149.60,402.20 V439.50 Q149.60,440.10 151.90,440.10" fill="none" stroke="#333" stroke-width="1.25"/>
<path d="M149.90,419.75 L148.10,420.20 L149.90,421.55 Z" fill="#1a1a1a"/>
<line x1="149.60" y1="420.65" x2="146.40" y2="420.65" stroke="#1a1a1a" stroke-width="0.95"/>
<text x="69.50" y="468.30" font-size="8.60" text-anchor="middle" font-weight="normal" fill="#1e1e1e" stroke="#1e1e1e" stroke-width="0.12" textLength="78.23" lengthAdjust="spacingAndGlyphs">JAK/ROCK/BTK/WNT</text>
<use href="#tcell" transform="translate(133.10 465.40) scale(1.000)" filter="url(#soft)"/>
<path d="M152.00,445.20 Q149.70,445.20 149.70,446.20 V484.20 Q149.70,484.80 152.00,484.80" fill="none" stroke="#333" stroke-width="1.25"/>
<path d="M150.00,464.10 L148.20,464.55 L150.00,465.90 Z" fill="#1a1a1a"/>
<line x1="149.70" y1="465.00" x2="146.50" y2="465.00" stroke="#1a1a1a" stroke-width="0.95"/>
<text x="69.50" y="516.90" font-size="8.60" text-anchor="middle" font-weight="normal" fill="#1e1e1e" stroke="#1e1e1e" stroke-width="0.12" textLength="15.56" lengthAdjust="spacingAndGlyphs">BTK</text>
<use href="#bcell" transform="translate(131.90 513.00) scale(1.000)" filter="url(#soft)"/>
<path d="M151.70,493.70 Q149.40,493.70 149.40,494.70 V533.10 Q149.40,533.70 151.70,533.70" fill="none" stroke="#333" stroke-width="1.25"/>
<path d="M149.70,512.80 L147.90,513.25 L149.70,514.60 Z" fill="#1a1a1a"/>
<line x1="149.40" y1="513.70" x2="146.20" y2="513.70" stroke="#1a1a1a" stroke-width="0.95"/>
<text x="69.50" y="552.80" font-size="8.60" text-anchor="middle" font-weight="normal" fill="#1e1e1e" stroke="#1e1e1e" stroke-width="0.12" textLength="14.67" lengthAdjust="spacingAndGlyphs">JAK</text>
<use href="#cyto" transform="translate(131.00 549.60) scale(1.000)" filter="url(#soft)"/>
<path d="M151.90,542.20 Q149.60,542.20 149.60,543.20 V556.50 Q149.60,557.10 151.90,557.10" fill="none" stroke="#333" stroke-width="1.25"/>
<path d="M149.90,548.75 L148.10,549.20 L149.90,550.55 Z" fill="#1a1a1a"/>
<line x1="149.60" y1="549.65" x2="146.40" y2="549.65" stroke="#1a1a1a" stroke-width="0.95"/>
<text x="69.50" y="575.00" font-size="8.60" text-anchor="middle" font-weight="normal" fill="#1e1e1e" stroke="#1e1e1e" stroke-width="0.12" textLength="23.11" lengthAdjust="spacingAndGlyphs">ROCK</text>
<use href="#tcell" transform="translate(131.00 572.10) scale(1.000)" filter="url(#soft)"/>
<path d="M151.90,562.50 Q149.60,562.50 149.60,563.50 V576.80 Q149.60,577.40 151.90,577.40" fill="none" stroke="#333" stroke-width="1.25"/>
<path d="M149.90,569.05 L148.10,569.50 L149.90,570.85 Z" fill="#1a1a1a"/>
<line x1="149.60" y1="569.95" x2="146.40" y2="569.95" stroke="#1a1a1a" stroke-width="0.95"/>
<text x="69.50" y="604.70" font-size="8.60" text-anchor="middle" font-weight="normal" fill="#1e1e1e" stroke="#1e1e1e" stroke-width="0.12" textLength="18.21" lengthAdjust="spacingAndGlyphs">WNT</text>
<use href="#fib" transform="translate(130.90 600.80) scale(1.000)" filter="url(#soft)"/>
<path d="M151.90,587.60 Q149.60,587.60 149.60,588.60 V612.90 Q149.60,613.50 151.90,613.50" fill="none" stroke="#333" stroke-width="1.25"/>
<path d="M149.90,599.65 L148.10,600.10 L149.90,601.45 Z" fill="#1a1a1a"/>
<line x1="149.60" y1="600.55" x2="146.40" y2="600.55" stroke="#1a1a1a" stroke-width="0.95"/>
<use href="#tcell" transform="translate(65.40 651.40) scale(1.380)" filter="url(#soft)"/>
<text x="77.80" y="654.90" font-size="8.20" text-anchor="start" font-weight="normal" fill="#222"  textLength="18.40" lengthAdjust="spacingAndGlyphs">T cell</text>
<use href="#bcell" transform="translate(110.20 651.40) scale(1.050)" filter="url(#soft)"/>
<text x="123.60" y="654.90" font-size="8.20" text-anchor="start" font-weight="normal" fill="#222"  textLength="18.83" lengthAdjust="spacingAndGlyphs">B cell</text>
<use href="#apc" transform="translate(156.40 651.10) scale(1.200)" filter="url(#soft)"/>
<text x="170.60" y="654.90" font-size="8.20" text-anchor="start" font-weight="normal" fill="#222"  textLength="15.83" lengthAdjust="spacingAndGlyphs">APC</text>
<use href="#fib" transform="translate(204.00 653.00) scale(1.280)" filter="url(#soft)"/>
<text x="222.60" y="654.90" font-size="8.20" text-anchor="start" font-weight="normal" fill="#222"  textLength="105.26" lengthAdjust="spacingAndGlyphs">Fibroblasts/Extracellular matrix</text>
<use href="#cyto" transform="translate(340.30 651.20) scale(1.400)" filter="url(#soft)"/>
<text x="353.10" y="654.90" font-size="8.20" text-anchor="start" font-weight="normal" fill="#222"  textLength="33.81" lengthAdjust="spacingAndGlyphs">Cytokines</text>
</svg></body></html>
